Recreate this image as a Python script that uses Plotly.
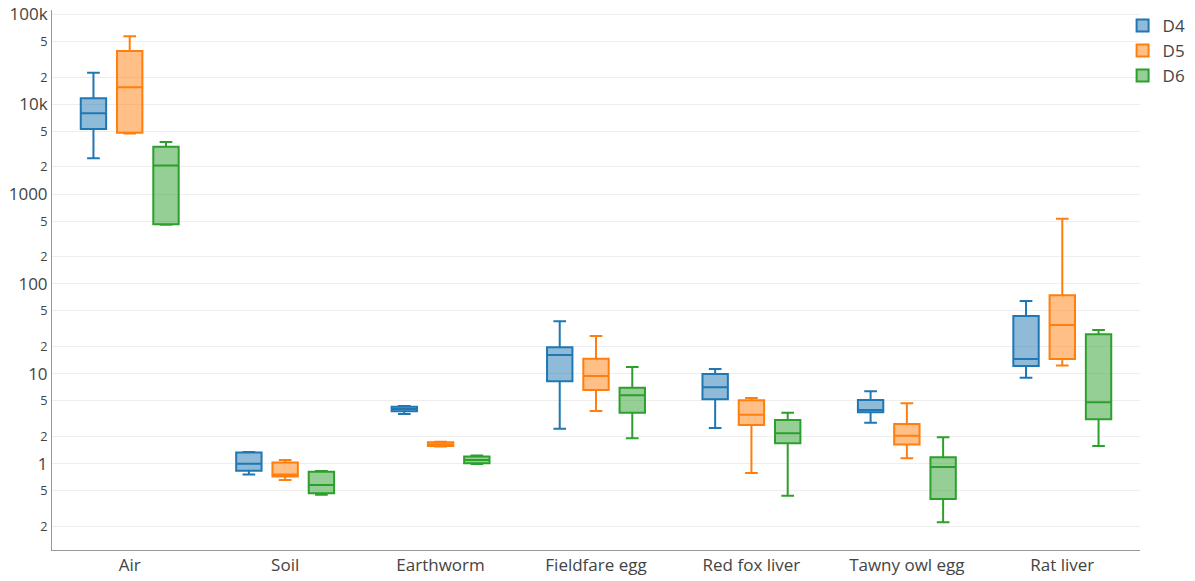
import plotly.graph_objects as go

categories = ["Air", "Soil", "Earthworm", "Fieldfare egg", "Red fox liver", "Tawny owl egg", "Rat liver"]
series = ["D4", "D5", "D6"]
colors = ["#1f77b4", "#ff7f0e", "#2ca02c"]

d4_lower = [2500, 0.76, 3.57, 2.45, 2.5, 2.86, 9.05]
d4_q1 = [5300, 0.836, 3.83, 8.26, 5.2, 3.73, 12.2]
d4_median = [7900, 1.0, 4.06, 16.2, 7.08, 3.96, 14.6]
d4_q3 = [11600, 1.33, 4.3, 19.7, 9.95, 5.11, 44]
d4_upper = [22300, 1.35, 4.38, 38.4, 11.3, 6.39, 64.5]

d5_lower = [4700, 0.66, 1.55, 3.86, 0.79, 1.15, 12.4]
d5_q1 = [4800, 0.72, 1.57, 6.6, 2.69, 1.64, 14.6]
d5_median = [15400, 0.76, 1.64, 9.45, 3.5, 2.05, 34.9]
d5_q3 = [39000, 1.03, 1.73, 14.7, 5.07, 2.77, 74.7]
d5_upper = [57000, 1.1, 1.76, 26.3, 5.38, 4.7, 531]

d6_lower = [455, 0.452, 0.99, 1.92, 0.44, 0.223, 1.57]
d6_q1 = [460, 0.469, 1.01, 3.69, 1.69, 0.405, 3.12]
d6_median = [2080, 0.58, 1.1, 5.77, 2.18, 0.92, 4.82]
d6_q3 = [3360, 0.815, 1.2, 7.0, 3.06, 1.18, 27.5]
d6_upper = [3800, 0.83, 1.23, 11.9, 3.69, 1.97, 30.7]

stats = [
    (d4_lower, d4_q1, d4_median, d4_q3, d4_upper),
    (d5_lower, d5_q1, d5_median, d5_q3, d5_upper),
    (d6_lower, d6_q1, d6_median, d6_q3, d6_upper),
]

fig = go.Figure()
for name, color, (lo, q1, med, q3, up) in zip(series, colors, stats):
    fig.add_trace(go.Box(
        name=name, x=categories, q1=q1, median=med, q3=q3,
        lowerfence=lo, upperfence=up,
        marker_color=color, line=dict(color=color, width=2),
        boxpoints=False,
    ))

fig.update_layout(
    width=1195, height=581,
    boxmode="group",
    paper_bgcolor="white", plot_bgcolor="white",
    font=dict(family="Open Sans", color="#444", size=17),
    margin=dict(l=52, r=55, t=10, b=31, autoexpand=False),
    legend=dict(x=0.984, y=1.004, xanchor="left", yanchor="top",
                font=dict(size=17), tracegroupgap=0, itemwidth=30,
                bgcolor="rgba(0,0,0,0)"),
    showlegend=True,
)
fig.update_yaxes(
    type="log", range=[-0.96, 5.047], dtick="D2",
    showgrid=True, gridcolor="#eeeeee", zeroline=False,
    showline=True, linecolor="#999", linewidth=1,
    tickfont=dict(size=17), automargin=False,
)
fig.update_xaxes(
    showline=True, linecolor="#999", linewidth=1,
    tickfont=dict(size=17), automargin=False,
)

fig.write_html(
    "out.html",
    config={"displayModeBar": False},
    post_script="document.body.style.margin='0';document.body.style.overflow='hidden';",
)
